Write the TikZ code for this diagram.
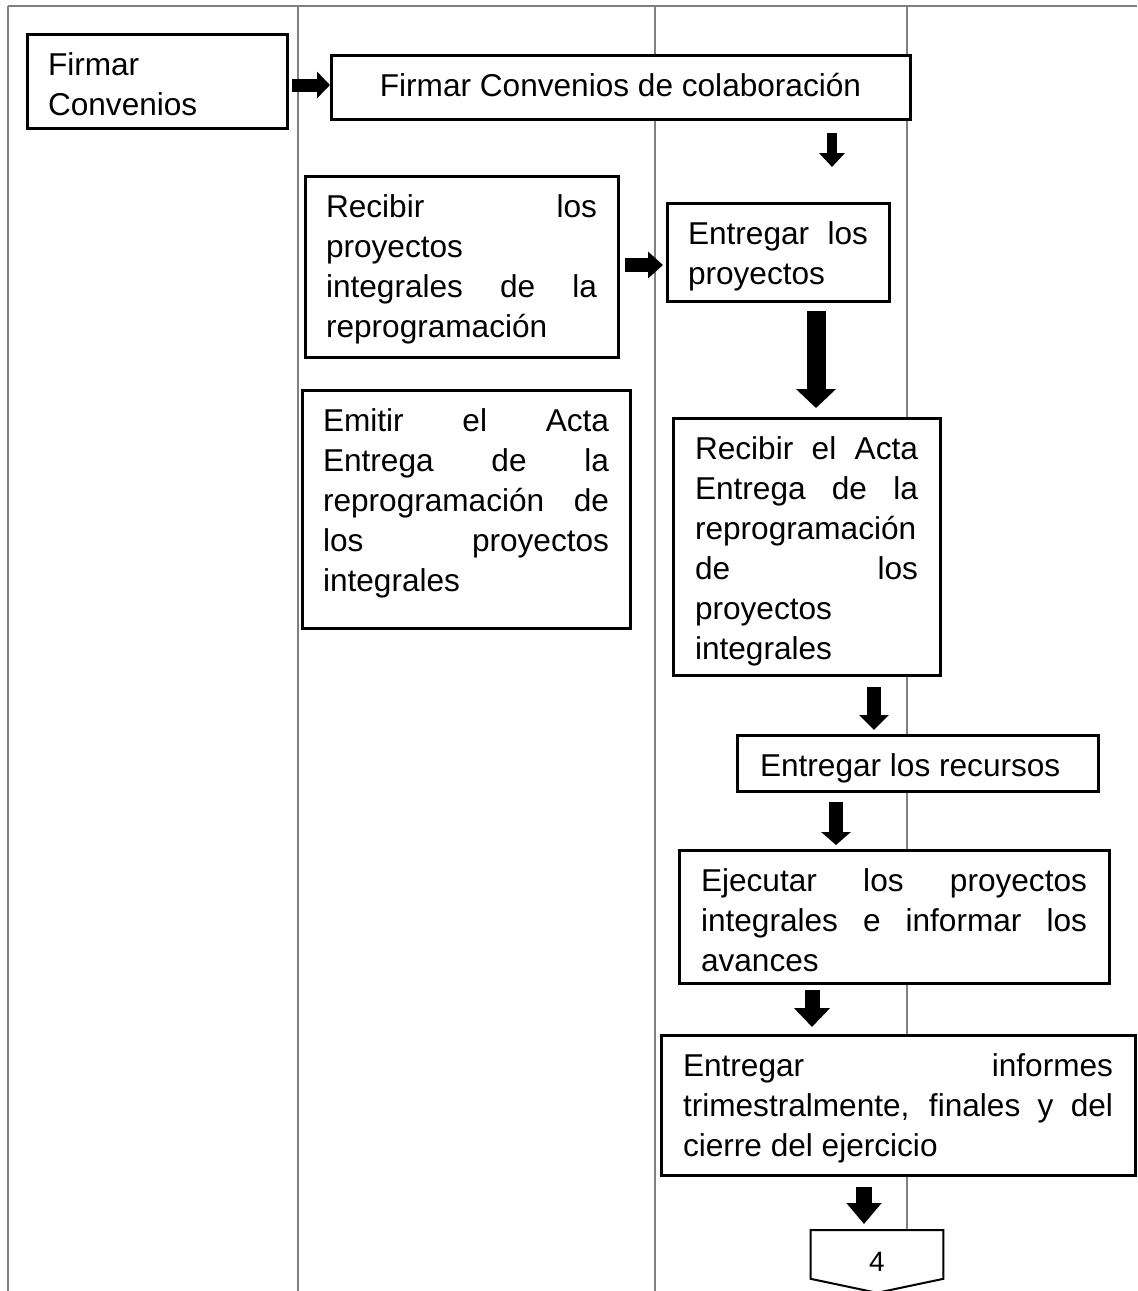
\documentclass[tikz,border=0pt]{standalone}
\usepackage{fontspec}
\setmainfont{Liberation Sans}
\usetikzlibrary{arrows.meta}
\newdimen\pxu \pxu=0.5pt
\newcommand\jl[1]{\makebox[\linewidth][s]{#1}\\}
\newcommand\flowbox[7]{%
  \node[procbox, inner xsep=#6*0.5pt] (#1) at (#2,#3)
   {\parbox[t][\dimexpr\pxu*(#5-#3)\relax][t]{\dimexpr\pxu*(#4-#2-2*#6)\relax}{\vspace*{6.75pt}\strut #7}};}
\tikzset{
  procbox/.style={draw=black, fill=white, line width=1.5pt, anchor=north west,
    inner ysep=0pt, outer sep=0pt, font=\fontsize{15.8}{20}\selectfont},
  lane/.style={draw=black!50, line width=0.8pt},
  blkarrow/.style n args={3}{line width=#1, -{Triangle[width=#2, length=#3]}},
}
\begin{document}
\begin{tikzpicture}[x=0.5pt,y=-0.5pt]
\useasboundingbox (0,0) rectangle (1137,1291);
% swimlane lines
\draw[lane] (8,6) -- (1137,6);
\draw[lane] (8,6) -- (8,1291);
\draw[lane] (298,6) -- (298,1291);
\draw[lane] (655,6) -- (655,1291);
\draw[lane] (907,6) -- (907,1230);
% boxes
\flowbox{b1}{27}{34}{287}{128}{21}{Firmar\\Convenios}
\flowbox{b2}{331}{55}{910}{119}{10}{\centering Firmar Convenios de colaboración}
\flowbox{b3}{305}{176}{618}{357}{21}{\jl{Recibir los}proyectos\\\jl{integrales de la}reprogramación}
\flowbox{b4}{667}{203}{889}{301}{21}{\jl{Entregar los}proyectos}
\flowbox{b5}{302}{390}{630}{628}{21}{\jl{Emitir el Acta}\jl{Entrega de la}\jl{reprogramación de}\jl{los proyectos}integrales}
\flowbox{b6}{673}{418}{940}{675}{22}{\jl{Recibir el Acta}\jl{Entrega de la}reprogramación\\\jl{de los}proyectos\\integrales}
\flowbox{b7}{737}{735}{1098}{791}{23}{Entregar los recursos}
\flowbox{b8}{679}{850}{1109}{983}{22}{\jl{Ejecutar los proyectos}\jl{integrales e informar los}avances}
\flowbox{b9}{661}{1035}{1135}{1175}{22}{\jl{Entregar informes}\jl{trimestralmente, finales y del}cierre del ejercicio}
% off-page connector
\node[minimum width=66pt, minimum height=24pt, inner sep=0pt, anchor=north] (c4) at (877,1230) {};
\draw[line width=1pt, fill=white] (c4.north west) -- (c4.north east) -- (c4.south east)
  -- ([yshift=-7pt]c4.south) -- (c4.south west) -- cycle;
\node[font=\fontsize{14}{16}\selectfont, inner sep=0pt] (c4t) at ([yshift=-3.5pt]c4.center) {4};
% block arrows
\draw[blkarrow={6.5pt}{13pt}{6.5pt}, shorten <=2.5pt, shorten >=0.5pt]
  (b1.east |- 0,85) -- (b2.west |- 0,85);
\draw[blkarrow={5pt}{12.5pt}{7pt}, shorten <=7pt, shorten >=18pt]
  (b2.south -| 832,0) -- (b4.north -| 832,0);
\draw[blkarrow={7pt}{13pt}{7.5pt}, shorten <=3.5pt, shorten >=2pt]
  (b3.east |- 0,265) -- (b4.west |- 0,265);
\draw[blkarrow={9.5pt}{19.5pt}{9.5pt}, shorten <=5pt, shorten >=5pt]
  (b4.south -| 816,0) -- (b6.north -| 816,0);
\draw[blkarrow={7pt}{14.5pt}{7.5pt}, shorten <=6pt, shorten >=2.5pt]
  (b6.south -| 874,0) -- (b7.north -| 874,0);
\draw[blkarrow={7pt}{14.5pt}{6.5pt}, shorten <=5.5pt, shorten >=2.5pt]
  (b7.south -| 836,0) -- (b8.north -| 836,0);
\draw[blkarrow={7.5pt}{17.5pt}{9.5pt}, shorten <=3.5pt, shorten >=4pt]
  (b8.south -| 812,0) -- (b9.north -| 812,0);
\draw[blkarrow={8pt}{17pt}{10.5pt}, shorten <=6pt, shorten >=3pt]
  (b9.south -| 864,0) -- (c4.north -| 864,0);
\end{tikzpicture}
\end{document}
